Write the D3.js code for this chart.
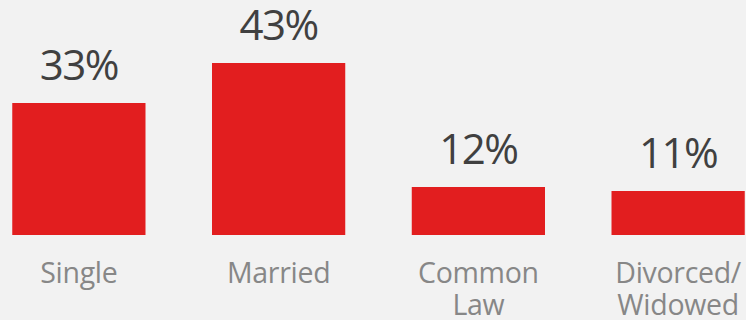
<!DOCTYPE html>
<html>
<head>
<meta charset="utf-8">
<script src="https://cdn.jsdelivr.net/npm/d3@7"></script>
<style>
    html, body { margin: 0; padding: 0; background: #f2f2f2; }
    svg { display: block; }
    .value-label { font-family: "Open Sans", sans-serif; fill: #404040; }
    .cat-label { font-family: "Open Sans", sans-serif; fill: #878787; }
</style>
</head>
<body>
<div id="chart"></div>
<script>
var categories = ['Single', 'Married', 'Common Law', 'Divorced/ Widowed'];
var categoryLines = [['Single'], ['Married'], ['Common', 'Law'], ['Divorced/', 'Widowed']];
var values = [33, 43, 12, 11];
var valueLabels = ['33%', '43%', '12%', '11%'];

var WIDTH = 746;
var HEIGHT = 320;
var BASELINE = 235;

var svg = d3.select('#chart').append('svg')
    .attr('width', WIDTH)
    .attr('height', HEIGHT);

var x = d3.scaleBand()
    .domain(categories)
    .range([-21, 778])
    .paddingInner(0.333)
    .paddingOuter(0.1665);

var y = d3.scaleLinear()
    .domain([0, 50])
    .range([BASELINE, BASELINE - 200]);

svg.selectAll('rect.bar')
    .data(values)
    .enter().append('rect')
    .attr('class', 'bar')
    .attr('x', function(d, i) { return x(categories[i]); })
    .attr('width', x.bandwidth())
    .attr('y', function(d) { return y(d); })
    .attr('height', function(d) { return y(0) - y(d); })
    .attr('fill', '#e21e1f');

svg.selectAll('text.value-label')
    .data(values)
    .enter().append('text')
    .attr('class', 'value-label')
    .attr('x', function(d, i) { return x(categories[i]) + x.bandwidth() / 2; })
    .attr('y', function(d) { return y(d) - 23; })
    .attr('text-anchor', 'middle')
    .style('font-size', '42px')
    .style('letter-spacing', '-1.5px')
    .text(function(d, i) { return valueLabels[i]; });

var catGroups = svg.selectAll('text.cat-label')
    .data(categoryLines)
    .enter().append('text')
    .attr('class', 'cat-label')
    .attr('text-anchor', 'middle')
    .style('font-size', '28.5px')
    .style('letter-spacing', '-0.3px');

catGroups.selectAll('tspan')
    .data(function(lines, i) {
        return lines.map(function(l) { return { text: l, cx: x(categories[i]) + x.bandwidth() / 2 }; });
    })
    .enter().append('tspan')
    .attr('x', function(d) { return d.cx; })
    .attr('y', function(d, j) { return 283 + j * 32; })
    .text(function(d) { return d.text; });
</script>
</body>
</html>
